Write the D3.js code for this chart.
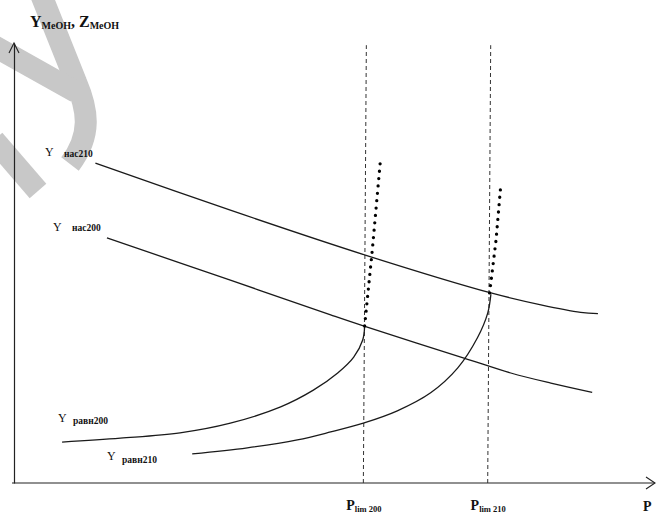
<!DOCTYPE html>
<html>
<head>
<meta charset="utf-8">
<script src="https://cdn.jsdelivr.net/npm/d3@7"></script>
<style>
  html, body { margin: 0; padding: 0; background: #fff; }
  svg { display: block; }
  text { font-family: "Liberation Serif", "DejaVu Serif", serif; fill: #111; }
</style>
</head>
<body>
<svg id="chart" width="657" height="515"></svg>
<script>
// ---------- DATA (abstract units: P 0..100, Y 0..100) ----------
const pLimValues = [54.5, 73.9];
const pLimLabels = ["lim 200", "lim 210"];

const yNas210 = [[12.7,72.7],[33.75,62.0],[54.8,51.8],[74.4,43.2],[82.2,40.5],[88.4,38.8],[91.1,38.5]];
const yNas200 = [[14.5,55.7],[33.75,46.1],[49.4,38.2],[54.5,35.7],[70.2,28.4],[77.5,25.0],[83.75,22.7],[90.2,20.6]];
const yRavn200 = [[7.5,9.3],[16.6,10.2],[25.9,11.4],[33.75,13.6],[41.6,17.3],[46.7,21.1],[50.5,25.0],[53.0,28.6],[54.4,32.5],[54.7,35.5]];
const yRavn210 = [[27.8,6.6],[36.4,8.0],[44.2,9.8],[49.4,11.6],[54.5,13.6],[59.8,16.4],[65.0,20.5],[69.2,26.1],[72.3,33.0],[73.9,38.6],[74.4,42.9]];
const dotted200 = [[54.7,35.7],[55.9,53.0],[57.2,73.9]];
const dotted210 = [[74.2,43.2],[75.2,55.2],[75.9,67.0]];

const curveNames = ["нас210", "нас200", "равн200", "равн210"];

// ---------- LAYOUT ----------
const svg = d3.select("#chart");
const x = d3.scaleLinear().domain([0, 100]).range([14, 655]);
const y = d3.scaleLinear().domain([0, 100]).range([483, 43]);

// watermark (decorative grey strokes, behind everything)
const wm = svg.append("g").attr("fill", "none").attr("stroke", "#c8c8c8").attr("stroke-width", 22);
wm.append("path").attr("d", "M40,-8 L76,82 C88,110 92,135 70,164");
wm.append("path").attr("d", "M-6,46 L76,92");
wm.append("path").attr("d", "M-6,140 L38,191");

// axes
const xAxis = d3.axisBottom(x).tickValues(pLimValues).tickSize(0).tickSizeOuter(0).tickFormat("");
const gx = svg.append("g").attr("transform", `translate(0,${y(0)})`).call(xAxis);
gx.select(".domain").attr("stroke", "#222").attr("stroke-width", 1.2).attr("d", `M${x(0)-2},0H${x(100)}`);

const yAxis = d3.axisLeft(y).tickValues([]).tickSizeOuter(0);
const gy = svg.append("g").attr("transform", `translate(${x(0)},0)`).call(yAxis);
gy.select(".domain").attr("stroke", "#222").attr("stroke-width", 1.2);

// arrowheads
svg.append("path").attr("fill", "none").attr("stroke", "#222").attr("stroke-width", 1.1)
  .attr("d", `M${x(0)-5},${y(100)+10} L${x(0)},${y(100)} L${x(0)+5},${y(100)+10}`);
svg.append("path").attr("fill", "none").attr("stroke", "#222").attr("stroke-width", 1.1)
  .attr("d", `M${x(100)-9},${y(0)-6} L${x(100)},${y(0)} L${x(100)-9},${y(0)+6}`);

// x tick labels P_lim
gx.selectAll(".tick").each(function(d, i) {
  const t = d3.select(this).append("text")
    .attr("y", 27).attr("text-anchor", "middle")
    .attr("font-weight", "bold").attr("fill", "#111");
  t.append("tspan").attr("font-size", 14).text("P");
  t.append("tspan").attr("font-size", 8.5).attr("dy", 2).text(pLimLabels[i]);
});
svg.append("text").attr("x", 643).attr("y", 511).attr("font-weight", "bold").attr("font-size", 14).text("P");

// y title
const title = svg.append("text").attr("x", 30).attr("y", 27).attr("font-weight", "bold");
title.append("tspan").attr("font-size", 16).text("Y");
title.append("tspan").attr("font-size", 10).attr("dy", 2).text("MeOH");
title.append("tspan").attr("font-size", 16).attr("dy", -2).text(", Z");
title.append("tspan").attr("font-size", 10).attr("dy", 2).text("MeOH");

// dashed verticals
svg.append("g").selectAll("line").data(pLimValues).join("line")
  .attr("x1", d => x(d)).attr("x2", d => x(d) + 3)
  .attr("y1", y(0)).attr("y2", y(99.5))
  .attr("stroke", "#333").attr("stroke-width", 1).attr("stroke-dasharray", "4,3");

// curves
const line = d3.line().x(d => x(d[0])).y(d => y(d[1])).curve(d3.curveCatmullRom.alpha(0.5));
[yNas210, yNas200, yRavn200, yRavn210].forEach(s => {
  svg.append("path").datum(s).attr("d", line)
    .attr("fill", "none").attr("stroke", "#1a1a1a").attr("stroke-width", 1.3);
});

// dotted lines
const lineLin = d3.line().x(d => x(d[0])).y(d => y(d[1]));
[dotted200, dotted210].forEach(s => {
  svg.append("path").datum(s).attr("d", lineLin)
    .attr("fill", "none").attr("stroke", "#000").attr("stroke-width", 3.3)
    .attr("stroke-linecap", "round").attr("stroke-dasharray", "0,7.4");
});

// curve labels
const labelPos = [
  {yx: 45, yy: 156, sx: 64, sy: 157},
  {yx: 53, yy: 231, sx: 72, sy: 231},
  {yx: 58, yy: 422, sx: 73, sy: 424},
  {yx: 107, yy: 460, sx: 122, sy: 463}
];
curveNames.forEach((name, i) => {
  const p = labelPos[i];
  svg.append("text").attr("x", p.yx).attr("y", p.yy).attr("font-size", 12).text("Y");
  svg.append("text").attr("x", p.sx).attr("y", p.sy).attr("font-size", 9.5).attr("font-weight", "bold").text(name);
});
</script>
</body>
</html>
